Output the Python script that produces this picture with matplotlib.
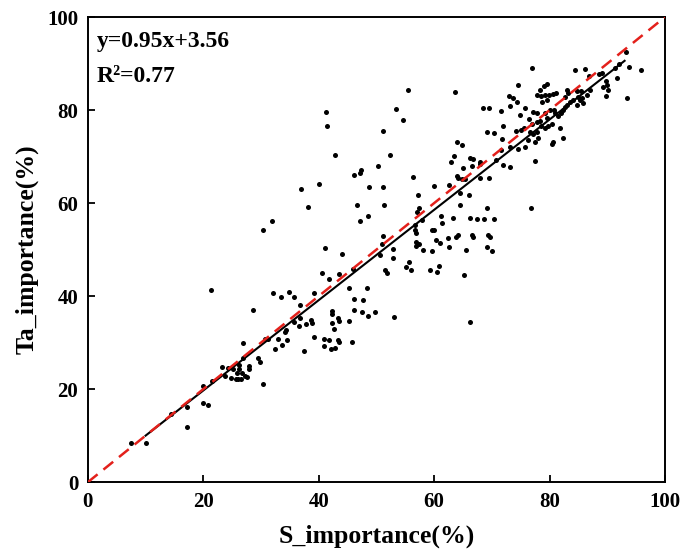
import numpy as np
from matplotlib import pyplot as plt

# fit shown in the figure
SLOPE = 0.95
INTERCEPT = 3.56
R2 = 0.77

# S_importance (%) and Ta_importance (%)
s_imp = [
    7.5, 10.0, 14.4, 17.1, 17.1, 20.0, 20.0, 20.8, 21.5, 30.3,
    41.1, 44.1, 21.4, 40.6, 43.6, 45.9, 41.8, 32.1, 33.4, 34.9,
    35.7, 36.7, 39.1, 45.3, 48.4, 46.1, 47.6, 42.3, 42.3, 43.3,
    43.5, 42.3, 42.6, 45.3, 46.1, 47.5, 48.6, 49.8, 28.7, 36.7,
    35.8, 37.8, 38.6, 38.8, 39.1, 37.4, 34.4, 34.2, 33.0, 34.5,
    33.6, 32.5, 30.7, 31.2, 40.9, 41.8, 43.3, 43.6, 45.8, 41.0,
    42.1, 42.9, 26.9, 26.9, 28.0, 28.0, 29.5, 29.9, 23.2, 24.2,
    25.1, 26.2, 26.2, 25.8, 26.7, 27.2, 27.5, 23.8, 24.8, 25.6,
    26.1, 26.6, 36.6, 50.6,
    41.2, 41.5, 42.9, 50.2, 47.3, 47.1, 46.2, 40.0, 37.0, 38.1,
    31.9, 30.3, 48.7, 46.7, 48.5, 47.1,
    76.9, 55.4, 63.6, 53.4, 54.6, 51.2, 52.3, 56.3, 51.2, 51.3,
    57.2, 57.4, 57.1, 60.0, 62.5, 63.9, 64.9, 63.4, 62.9, 65.0,
    63.9, 64.2, 64.8, 65.4, 66.2, 66.8, 66.6, 67.9, 68.0, 68.0,
    69.5, 64.5, 66.1, 64.5, 56.7, 56.6, 56.8, 57.9, 59.6, 60.0,
    61.2, 61.4, 63.3, 66.2, 67.5, 68.7, 69.2, 70.4, 76.8, 60.4,
    61.0, 62.4, 63.8, 64.2, 66.5, 66.7, 69.3, 69.7, 56.9, 57.4,
    58.1, 59.6, 62.5, 65.5, 69.2, 70.0, 52.9, 51.2, 52.9, 56.8,
    50.9,
    68.5, 69.5, 71.6, 69.2, 70.4, 71.9, 71.8, 70.8, 71.6, 72.0,
    73.1, 73.2, 72.9, 73.6, 74.4, 74.6, 73.2, 74.9, 75.8, 76.4,
    74.2, 75.5, 75.1, 75.8, 74.6, 77.5, 77.9, 78.3, 79.0, 79.5,
    78.5, 79.2, 79.9, 80.6, 81.1, 78.7, 79.5, 77.2, 77.8, 76.9,
    77.8, 78.3, 79.2, 80.1, 80.8, 76.6, 77.2, 77.8, 78.6, 79.2,
    79.8, 80.4, 80.6, 80.4, 81.0, 81.5, 76.3, 77.5, 78.0, 79.5,
    55.2, 56.0, 55.6, 51.5, 51.8, 59.3, 60.5, 60.9, 65.1, 53.0,
    66.2,
    93.2, 92.1, 93.8, 95.9, 91.3, 91.7, 93.5, 84.4, 86.2, 86.8,
    88.5, 89.0, 89.7, 89.9, 89.3, 90.1, 89.7, 87.0, 85.4, 84.8,
    85.0, 85.6, 85.2, 84.7, 83.0, 83.2, 82.6, 83.5, 83.0, 82.6,
    82.3, 81.9, 81.8, 82.3, 84.1, 86.4, 85.8,
]
ta_imp = [
    8.4, 8.4, 14.6, 16.1, 11.8, 20.6, 17.0, 16.6, 21.7, 21.1,
    50.3, 49.0, 41.3, 45.0, 44.7, 45.8, 43.6, 40.6, 39.9, 40.8,
    39.9, 38.1, 40.7, 41.8, 41.7, 39.4, 39.1, 36.8, 36.1, 35.2,
    34.7, 34.3, 33.0, 34.7, 37.1, 36.5, 35.7, 36.6, 37.1, 35.2,
    34.5, 34.0, 34.8, 34.3, 31.3, 28.2, 32.7, 32.3, 30.8, 30.5,
    29.5, 28.7, 30.8, 30.7, 30.7, 30.5, 30.5, 30.1, 30.2, 29.2,
    28.6, 28.9, 30.0, 26.8, 24.9, 24.3, 26.6, 25.9, 24.8, 24.6,
    24.4, 25.2, 24.4, 23.5, 23.4, 22.8, 22.6, 22.8, 22.3, 22.1,
    22.1, 22.1, 33.5, 48.8,
    79.6, 76.5, 70.3, 68.0, 67.1, 66.4, 66.0, 64.2, 63.0, 59.1,
    56.1, 54.3, 63.4, 59.7, 57.2, 56.1,
    89.1, 84.4, 83.9, 80.2, 77.8, 75.5, 70.3, 65.7, 63.4, 59.7,
    61.7, 58.9, 58.1, 63.7, 63.8, 73.1, 72.6, 70.2, 68.9, 67.5,
    65.8, 65.4, 65.2, 65.1, 69.8, 69.4, 68.0, 68.9, 68.5, 65.5,
    65.5, 62.1, 61.7, 59.5, 55.3, 54.2, 53.5, 56.3, 54.2, 54.3,
    57.2, 55.8, 56.9, 56.7, 56.5, 56.5, 59.0, 56.5, 59.0, 52.0,
    51.5, 52.5, 52.8, 53.1, 53.1, 52.8, 53.1, 52.8, 51.7, 51.3,
    49.9, 49.7, 50.6, 49.9, 50.6, 49.7, 50.1, 53.0, 48.1, 50.8,
    51.3,
    80.5, 80.4, 79.8, 75.3, 75.1, 76.5, 73.7, 69.2, 71.5, 68.3,
    67.8, 72.1, 83.1, 82.7, 81.8, 85.5, 80.8, 78.9, 80.4, 78.1,
    75.5, 76.2, 75.7, 72.1, 71.7, 69.0, 83.3, 84.3, 85.2, 85.6,
    83.1, 83.2, 83.3, 83.4, 83.6, 81.8, 82.2, 79.6, 79.3, 77.1,
    77.5, 77.7, 79.3, 80.0, 80.1, 75.3, 74.8, 75.3, 76.5, 76.1,
    76.5, 77.1, 73.2, 72.7, 79.4, 78.7, 73.5, 73.2, 73.9, 78.3,
    46.3, 45.7, 47.4, 45.7, 45.0, 45.6, 45.2, 46.5, 44.5, 35.6,
    34.5,
    92.5, 90.0, 89.2, 88.7, 89.0, 87.0, 82.7, 88.6, 88.9, 87.3,
    87.7, 87.9, 86.2, 85.4, 85.0, 84.4, 83.0, 84.3, 84.2, 84.0,
    82.9, 82.5, 82.2, 81.1, 84.4, 83.6, 82.9, 81.8, 81.2, 80.6,
    80.0, 79.3, 76.1, 74.1, 82.2, 83.2, 81.5,
]
# end points of the black fit line as drawn in the reference
fit_x = [10.0, 93.0]
fit_y = [10.0, 90.6]
ticks = [0, 20, 40, 60, 80, 100]

plt.rcParams['font.family'] = ['Liberation Serif', 'DejaVu Serif']
plt.rcParams['font.weight'] = 'bold'

fig = plt.figure(figsize=(6.81, 5.60), dpi=100)
ax = fig.add_axes([0.129, 0.139, 0.8475, 0.8305])

ax.scatter(s_imp, ta_imp, s=13, color='black', linewidths=0, zorder=2)

ax.plot(fit_x, fit_y, color='black', lw=1.5, zorder=3)
ax.plot([0, 100], [0, 100], color='#e3201b', lw=1.8, dashes=(5, 3), zorder=4)

ax.set_xlim(0, 100)
ax.set_ylim(0, 100)
ax.set_xticks(ticks)
ax.set_yticks(ticks)
ax.tick_params(direction='in', length=5, width=1.3, labelsize=15, pad=7)
for lab in ax.get_xticklabels() + ax.get_yticklabels():
    lab.set_fontweight('bold')
for sp in ax.spines.values():
    sp.set_linewidth(1.4)

ax.set_xlabel('S_importance(%)', fontsize=18.5, fontweight='bold', labelpad=9)
ax.set_ylabel('Ta_importance(%)', fontsize=18.5, fontweight='bold', labelpad=6)

ax.text(0.015, 0.935, f'y={SLOPE}x+{INTERCEPT}', transform=ax.transAxes,
        fontsize=17, fontweight='bold', va='baseline', ha='left')
ax.text(0.015, 0.86, f'R²={R2}', transform=ax.transAxes,
        fontsize=17, fontweight='bold', va='baseline', ha='left')

fig.savefig('out.png', dpi=100)
